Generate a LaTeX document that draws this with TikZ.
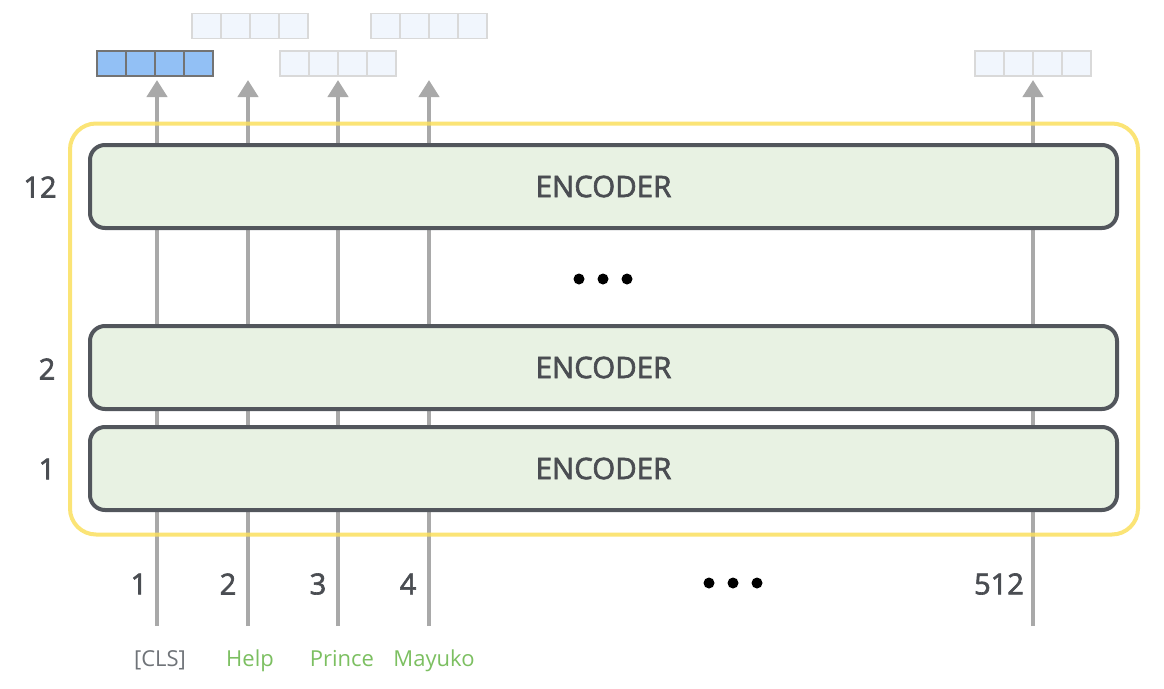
\documentclass[tikz,border=0pt]{standalone}
\usepackage{fontspec}
\setmainfont{Open Sans}
\newfontfamily\semib{Open Sans}[FakeBold=2.2]
\usetikzlibrary{arrows.meta}
\definecolor{encfill}{HTML}{E8F2E3}
\definecolor{encdraw}{HTML}{52565C}
\definecolor{txt}{HTML}{4A4D52}
\definecolor{arr}{HTML}{A9A9A9}
\definecolor{yel}{HTML}{FADF5E}
\definecolor{vecblue}{HTML}{92C0F5}
\definecolor{veclight}{HTML}{F1F6FD}
\definecolor{grn}{HTML}{7CBF61}
\definecolor{clsgray}{HTML}{6F7378}
\tikzset{
  enc/.style={draw=encdraw, line width=4pt, fill=encfill, rounded corners=15pt,
    minimum width=1027pt, minimum height=83pt, inner sep=0pt,
    font=\semib\fontsize{29.5}{32}\selectfont, text=txt},
  tok/.style={draw=arr, line width=4.5pt, -{Triangle[width=20pt,length=17pt]}},
  cell/.style={minimum width=29pt, minimum height=25pt, inner sep=0pt, line width=1.2pt},
  lightcell/.style={cell, draw=black!15, fill=veclight},
  bluecell/.style={cell, draw=black!55, fill=vecblue},
  num/.style={font=\semib\fontsize{29}{32}\selectfont, text=txt, inner sep=0pt},
  word/.style={font=\fontsize{22}{26}\selectfont, inner sep=0pt, anchor=base},
  dot/.style={fill=black, circle, minimum size=11pt, inner sep=0pt}
}
\newcommand{\vecrow}[4]{% style, name, left x, center y
  \foreach \i in {0,1,2,3}{
    \node[#1] (#2\i) at ({#3+14.5+29*\i},#4) {};
  }
}
\begin{document}
\begin{tikzpicture}[x=1pt,y=-1pt]
\useasboundingbox (0,0) rectangle (1164,688);
% token input coordinates
\coordinate (b1) at (157,626);
\coordinate (b2) at (248,626);
\coordinate (b3) at (338,626);
\coordinate (b4) at (429,626);
\coordinate (b5) at (1033,626);
\coordinate (t1) at (157,80);
\coordinate (t2) at (248,80);
\coordinate (t3) at (338,80);
\coordinate (t4) at (429,80);
\coordinate (t5) at (1033,80);
% arrows (behind)
\foreach \k in {1,...,5}{ \draw[tok] (b\k) -- (t\k); }
% yellow frame
\node[draw=yel, draw opacity=0.85, line width=4pt, rounded corners=26pt,
  minimum width=1068pt, minimum height=411pt, inner sep=0pt] (frame) at (604,329) {};
% encoders
\node[enc] (e12) at (603.5,186.5) {ENCODER};
\node[enc] (e2) at (603.5,367.5) {ENCODER};
\node[enc] (e1) at (603.5,468.5) {ENCODER};
% layer numbers
\node[num] (l12) at (40,187) {12};
\node[num] (l2) at (47,369) {2};
\node[num] (l1) at (47,469) {1};
% middle dots
\node[dot] (d1) at (579,279) {};
\node[dot] (d2) at (603,279) {};
\node[dot] (d3) at (627,279) {};
% output vectors
\vecrow{bluecell}{vA}{97}{63.5}
\vecrow{lightcell}{vB}{192}{26}
\vecrow{lightcell}{vC}{280}{63.5}
\vecrow{lightcell}{vD}{371}{26}
\vecrow{lightcell}{vE}{975}{63.5}
% position numbers
\node[num] (p1) at (139,584) {1};
\node[num] (p2) at (228,584) {2};
\node[num] (p3) at (318,584) {3};
\node[num] (p4) at (408,584) {4};
\node[num] (p5) at (999,584) {512};
\node[dot] (e1d) at (709,583) {};
\node[dot] (e2d) at (733,583) {};
\node[dot] (e3d) at (757,583) {};
% words
\node[word, text=clsgray] (w1) at (160,666) {[CLS]};
\node[word, text=grn] (w2) at (250,666) {Help};
\node[word, text=grn] (w3) at (342,666) {Prince};
\node[word, text=grn] (w4) at (434,666) {Mayuko};
\end{tikzpicture}
\end{document}
